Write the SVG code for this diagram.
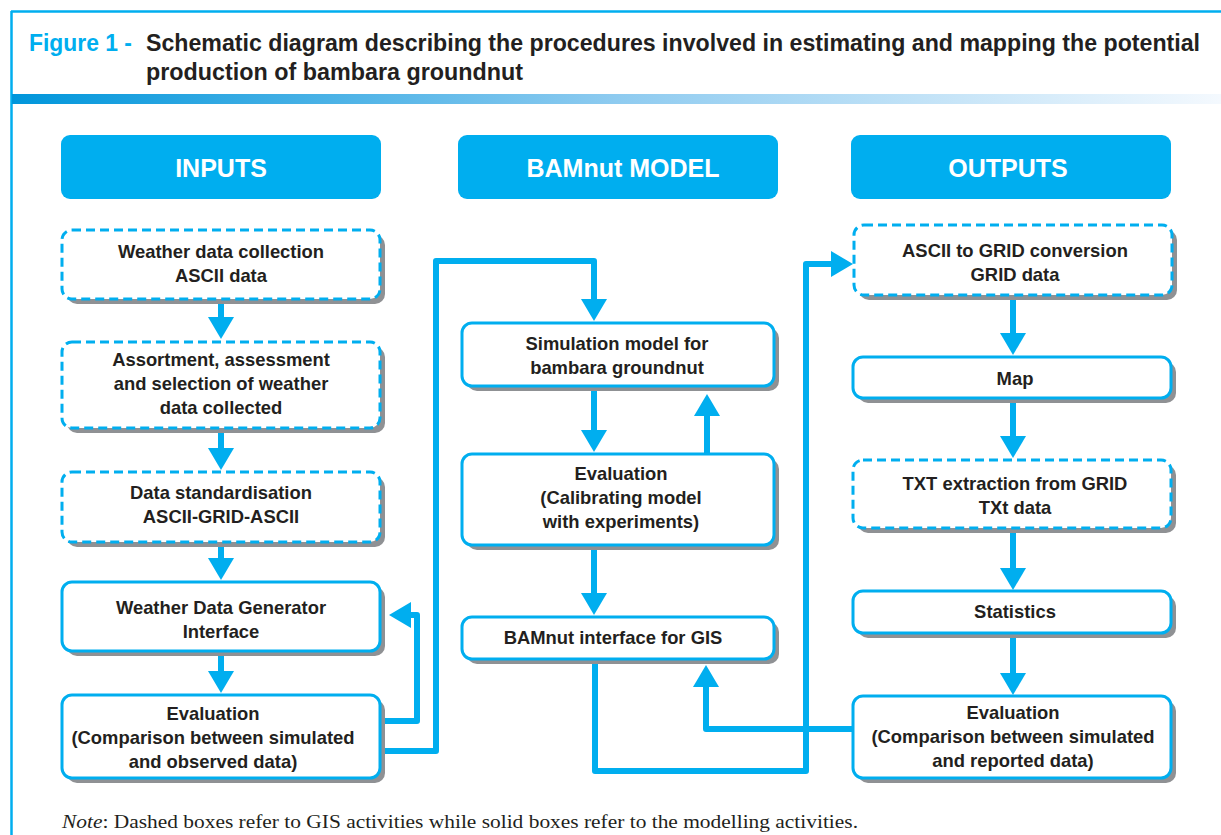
<svg xmlns="http://www.w3.org/2000/svg" width="1221" height="835" viewBox="0 0 1221 835">
<style>
.box{fill:#fff;stroke:#00AEEF;stroke-width:3}
.dash{stroke-dasharray:9 5}
.sh{fill:#8f9194}
.hdr{fill:#00AEEF}
.ht{font-family:"Liberation Sans",Arial,sans-serif;font-weight:bold;font-size:25px;fill:#fff;text-anchor:middle}
.t{font-family:"Liberation Sans",Arial,sans-serif;font-weight:bold;font-size:18.4px;fill:#231f20;text-anchor:middle}
.c{fill:none;stroke:#00AEEF;stroke-width:6;stroke-linejoin:round}
.title{font-family:"Liberation Sans",Arial,sans-serif;font-weight:bold;font-size:23px;fill:#231f20}
</style>
<defs>
<linearGradient id="bar" x1="0" x2="1" y1="0" y2="0">
<stop offset="0" stop-color="#0096db"/>
<stop offset="0.5" stop-color="#8ecbf0"/>
<stop offset="1" stop-color="#f4f9fe"/>
</linearGradient>
<marker id="ah" viewBox="0 0 22 26" refX="1" refY="13" markerWidth="22" markerHeight="26" markerUnits="userSpaceOnUse" orient="auto">
<path d="M0,0 L22,13 L0,26 Z" fill="#00AEEF"/>
</marker>
</defs>
<rect width="1221" height="835" fill="#fff"/>
<g id="frame">
<path d="M11,11.5 H1221 M11.5,11 V835" fill="none" stroke="#00AEEF" stroke-width="2.5"/>
<rect x="12" y="94" width="1209" height="10" fill="url(#bar)"/>
</g>
<g id="title">
<text x="29" y="51" class="title" style="fill:#00AEEF" textLength="103" lengthAdjust="spacingAndGlyphs">Figure 1 -</text>
<text x="146" y="51" class="title" textLength="1054" lengthAdjust="spacingAndGlyphs">Schematic diagram describing the procedures involved in estimating and mapping the potential</text>
<text x="146" y="80" class="title" textLength="377" lengthAdjust="spacingAndGlyphs">production of bambara groundnut</text>
</g>
<g id="h-inputs"><rect x="61" y="135" width="320" height="64" rx="9" class="hdr"/><text x="221" y="177" class="ht">INPUTS</text></g>
<g id="h-model"><rect x="458" y="135" width="320" height="64" rx="9" class="hdr"/><text x="623" y="177" class="ht">BAMnut MODEL</text></g>
<g id="h-outputs"><rect x="851" y="135" width="320" height="64" rx="9" class="hdr"/><text x="1008" y="177" class="ht">OUTPUTS</text></g>

<g id="connectors">
<path class="c" d="M221,301 V318" marker-end="url(#ah)"/>
<path class="c" d="M221,429 V449" marker-end="url(#ah)"/>
<path class="c" d="M221,543 V559" marker-end="url(#ah)"/>
<path class="c" d="M221,652 V672" marker-end="url(#ah)"/>
<path class="c" d="M381,721 H417 V615 H410" marker-end="url(#ah)"/>
<path class="c" d="M381,751 H436 V261 H594 V300" marker-end="url(#ah)"/>
<path class="c" d="M594,387 V431" marker-end="url(#ah)"/>
<path class="c" d="M707,454 V415" marker-end="url(#ah)"/>
<path class="c" d="M594,546 V594" marker-end="url(#ah)"/>
<path class="c" d="M595,660 V771 H806 V264 H832" marker-end="url(#ah)"/>
<path class="c" d="M853,729 H706 V686" marker-end="url(#ah)"/>
<path class="c" d="M1013,297 V334" marker-end="url(#ah)"/>
<path class="c" d="M1013,398 V437" marker-end="url(#ah)"/>
<path class="c" d="M1013,529 V569" marker-end="url(#ah)"/>
<path class="c" d="M1013,634 V674" marker-end="url(#ah)"/>
</g>

<g id="n1"><rect x="67" y="235" width="318" height="69" rx="10" class="sh"/><rect x="62" y="230" width="318" height="69" rx="10" class="box dash"/>
<text class="t" x="221" y="258">Weather data collection</text><text class="t" x="221" y="282">ASCII data</text></g>
<g id="n2"><rect x="67" y="347" width="318" height="86" rx="10" class="sh"/><rect x="62" y="342" width="318" height="86" rx="10" class="box dash"/>
<text class="t" x="221" y="366">Assortment, assessment</text><text class="t" x="221" y="390">and selection of weather</text><text class="t" x="221" y="414">data collected</text></g>
<g id="n3"><rect x="67" y="477" width="318" height="70" rx="10" class="sh"/><rect x="62" y="472" width="318" height="70" rx="10" class="box dash"/>
<text class="t" x="221" y="499">Data standardisation</text><text class="t" x="221" y="523">ASCII-GRID-ASCII</text></g>
<g id="n4"><rect x="67" y="587" width="318" height="69" rx="10" class="sh"/><rect x="62" y="582" width="318" height="69" rx="10" class="box"/>
<text class="t" x="221" y="614">Weather Data Generator</text><text class="t" x="221" y="638">Interface</text></g>
<g id="n5"><rect x="67" y="700" width="318" height="83" rx="10" class="sh"/><rect x="62" y="695" width="318" height="83" rx="10" class="box"/>
<text class="t" x="213" y="720">Evaluation</text><text class="t" x="213" y="744">(Comparison between simulated</text><text class="t" x="213" y="768">and observed data)</text></g>

<g id="m1"><rect x="467" y="328" width="312" height="63" rx="10" class="sh"/><rect x="462" y="323" width="312" height="63" rx="10" class="box"/>
<text class="t" x="617" y="350">Simulation model for</text><text class="t" x="617" y="374">bambara groundnut</text></g>
<g id="m2"><rect x="467" y="459" width="312" height="91" rx="10" class="sh"/><rect x="462" y="454" width="312" height="91" rx="10" class="box"/>
<text class="t" x="621" y="480">Evaluation</text><text class="t" x="621" y="504">(Calibrating model</text><text class="t" x="621" y="528">with experiments)</text></g>
<g id="m3"><rect x="467" y="622" width="312" height="42" rx="10" class="sh"/><rect x="462" y="617" width="312" height="42" rx="10" class="box"/>
<text class="t" x="613" y="644">BAMnut interface for GIS</text></g>

<g id="o1"><rect x="859" y="230" width="318" height="70" rx="10" class="sh"/><rect x="854" y="225" width="318" height="70" rx="10" class="box dash"/>
<text class="t" x="1015" y="257">ASCII to GRID conversion</text><text class="t" x="1015" y="281">GRID data</text></g>
<g id="o2"><rect x="858" y="362" width="318" height="41" rx="10" class="sh"/><rect x="853" y="357" width="318" height="41" rx="10" class="box"/>
<text class="t" x="1015" y="385">Map</text></g>
<g id="o3"><rect x="858" y="465" width="318" height="68" rx="10" class="sh"/><rect x="853" y="460" width="318" height="68" rx="10" class="box dash"/>
<text class="t" x="1015" y="490">TXT extraction from GRID</text><text class="t" x="1015" y="514">TXt data</text></g>
<g id="o4"><rect x="858" y="596" width="318" height="42" rx="10" class="sh"/><rect x="853" y="591" width="318" height="42" rx="10" class="box"/>
<text class="t" x="1015" y="618">Statistics</text></g>
<g id="o5"><rect x="858" y="701" width="318" height="82" rx="10" class="sh"/><rect x="853" y="696" width="318" height="82" rx="10" class="box"/>
<text class="t" x="1013" y="719">Evaluation</text><text class="t" x="1013" y="743">(Comparison between simulated</text><text class="t" x="1013" y="767">and reported data)</text></g>

<text x="62" y="828" font-family="'Liberation Serif','Times New Roman',serif" font-size="18.5" fill="#231f20" textLength="796" lengthAdjust="spacingAndGlyphs"><tspan font-style="italic">Note</tspan>: Dashed boxes refer to GIS activities while solid boxes refer to the modelling activities.</text>
</svg>
